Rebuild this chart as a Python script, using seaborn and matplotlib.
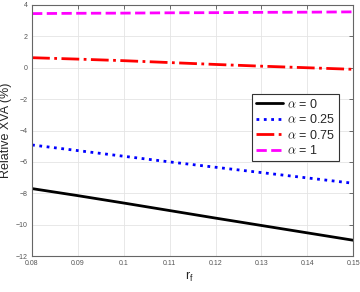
import numpy as np
import pandas as pd
import matplotlib
matplotlib.use("Agg")
import matplotlib.pyplot as plt
import seaborn as sns

# values
rf = [0.08, 0.09, 0.10, 0.11, 0.12, 0.13, 0.14, 0.15]
xva_a0 = [-7.70, -8.15, -8.62, -9.10, -9.58, -10.05, -10.52, -10.99]
xva_a025 = [-4.92, -5.28, -5.64, -6.00, -6.34, -6.68, -7.02, -7.36]
xva_a075 = [0.64, 0.55, 0.45, 0.33, 0.21, 0.10, 0.00, -0.10]
xva_a1 = [3.45, 3.47, 3.48, 3.50, 3.51, 3.53, 3.54, 3.56]

labels = [r'$\alpha$ = 0', r'$\alpha$ = 0.25', r'$\alpha$ = 0.75', r'$\alpha$ = 1']
series = [xva_a0, xva_a025, xva_a075, xva_a1]
colors = ['black', 'blue', 'red', 'magenta']
styles = ['-', ':', '-.', '--']

sns.set_style("whitegrid")
plt.rcParams['font.family'] = ['Liberation Sans', 'DejaVu Sans']
plt.rcParams['mathtext.fontset'] = 'cm'

fig = plt.figure(figsize=(3.6, 2.92), dpi=100)
ax = fig.add_axes([0.089, 0.123, 0.892, 0.860])

for lab, vals, c, ls in zip(labels, series, colors, styles):
    df = pd.DataFrame({'rf': rf, 'xva': vals})
    sns.lineplot(data=df, x='rf', y='xva', ax=ax, color=c, linestyle=ls,
                 linewidth=2, label=lab)

ax.set_xlim(0.08, 0.15)
ax.set_ylim(-12, 4)
ax.set_xticks([0.08, 0.09, 0.1, 0.11, 0.12, 0.13, 0.14, 0.15])
ax.set_xticklabels(['0.08', '0.09', '0.1', '0.11', '0.12', '0.13', '0.14', '0.15'])
ax.set_yticks(np.arange(-12, 5, 2))
ax.tick_params(axis='both', labelsize=5, colors='#555555', direction='in',
               length=3, width=0.6, top=True, right=True, pad=3)
ax.grid(True, color='#e4e4e4', linewidth=0.6)
for sp in ax.spines.values():
    sp.set_color('#666666')
    sp.set_linewidth(0.8)

ax.set_ylabel('Relative XVA (%)', fontsize=9)
ax.yaxis.set_label_coords(-0.062, 0.5)
ax.set_xlabel(r'r$_\mathregular{f}$', fontsize=9)
ax.xaxis.set_label_coords(0.49, -0.055)

leg = ax.legend(loc='upper right', bbox_to_anchor=(0.955, 0.645), fontsize=9,
                frameon=True, fancybox=False, handlelength=2.2,
                borderpad=0.3, labelspacing=0.2, handletextpad=0.3,
                borderaxespad=0)
leg.get_frame().set_edgecolor('#333333')
leg.get_frame().set_linewidth(0.8)
leg.get_frame().set_alpha(1)

fig.savefig('out.png', dpi=100)
